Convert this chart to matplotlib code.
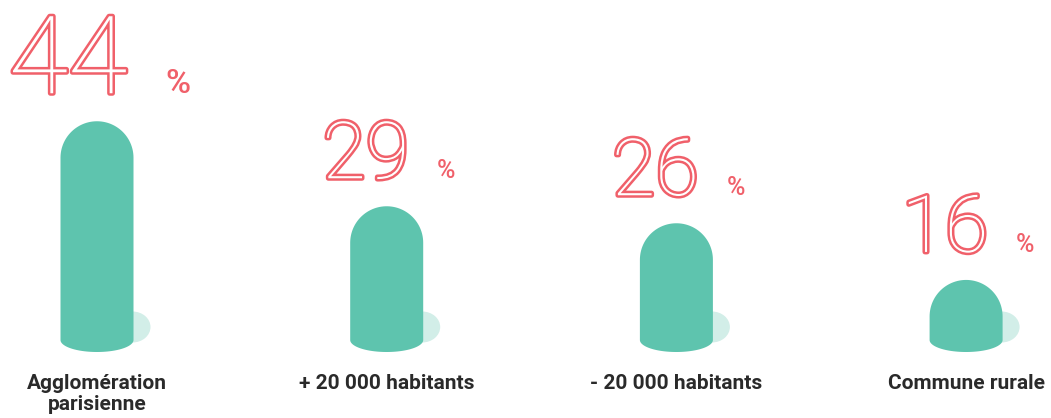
import numpy as np
import matplotlib
matplotlib.use("Agg")
import matplotlib.pyplot as plt
import matplotlib.patheffects as pe
from matplotlib.patches import Polygon, Ellipse

# data
categories = ["Agglomération\nparisienne", "+ 20 000 habitants",
              "- 20 000 habitants", "Commune rurale"]
values = [44, 29, 26, 16]

# style
bar_color = "#5ec4ae"
shadow_color = "#d2eee8"
red = "#f0606a"
label_color = "#2a2a2a"
num_sizes = [78, 57, 57, 57]

W, H = 1051, 418
fig = plt.figure(figsize=(W / 100, H / 100), dpi=100)
ax = fig.add_axes([0, 0, 1, 1])
ax.axis("off")

# scales (pixels per data unit)
base = 5.4
xs = 289.7
ys = 5.667
ax.set_xlim(-97 / xs, (W - 97) / xs)
ax.set_ylim(base - (H - 340) / ys, base + 340 / ys)

bar_w = 73 / xs
rx = bar_w / 2
ry = 36.5 / ys
ey = 12 / ys

for i, v in enumerate(values):
    x = i
    # light shadow blob behind the bar bottom
    ax.add_patch(Ellipse((x + rx - 1 / xs, base + 13 / ys), 36 / xs, 31 / ys,
                         color=shadow_color, zorder=1, lw=0))

    t1 = np.linspace(np.pi, 0, 60)
    t2 = np.linspace(0, -np.pi, 60)
    top = v
    px = np.concatenate([[x - rx], x + rx * np.cos(t1), [x + rx], x + rx * np.cos(t2)])
    py = np.concatenate([[base], top - ry + ry * np.sin(t1), [base], base + ey * np.sin(t2)])
    ax.add_patch(Polygon(np.column_stack([px, py]), closed=True,
                         color=bar_color, lw=0, zorder=2))

    # big outlined number + small percent sign
    k = num_sizes[i] / 57
    ytxt = top + 28 / ys
    ax.annotate(str(v), (x, ytxt), xytext=(16 * k, 0), textcoords="offset points",
                ha="right", va="baseline", fontsize=num_sizes[i],
                family="Roboto", weight=100, color="white",
                path_effects=[pe.Stroke(linewidth=3.6, foreground=red), pe.Normal()])
    ax.annotate("%", (x, ytxt), xytext=(36 * k, 0), textcoords="offset points",
                ha="left", va="baseline", fontsize=18 * k,
                family="Roboto", weight="medium", color=red)

    ax.text(x, 0.105, categories[i], transform=ax.get_xaxis_transform(),
            ha="center", va="top", fontsize=15, weight="bold",
            family="Roboto", color=label_color, linespacing=1.15)

fig.savefig("out.png", dpi=100)
